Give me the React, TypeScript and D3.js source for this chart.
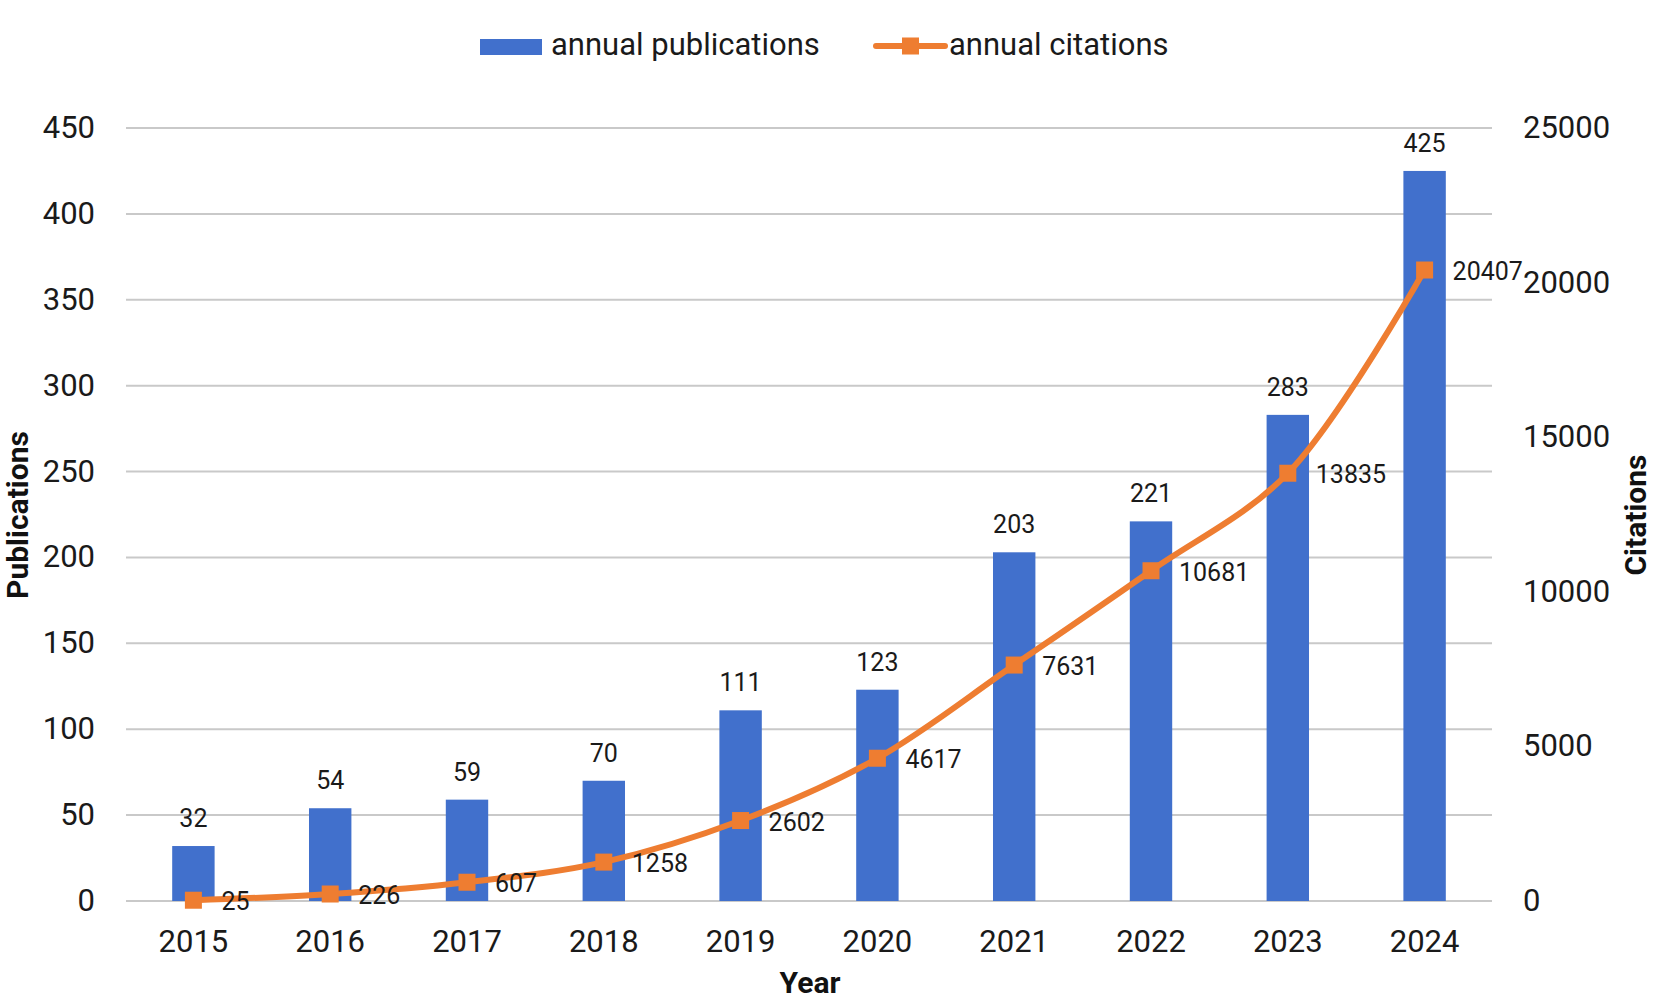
import React from "react";
import * as d3 from "d3";

const years: string[] = ["2015", "2016", "2017", "2018", "2019", "2020", "2021", "2022", "2023", "2024"];
const publications: number[] = [32, 54, 59, 70, 111, 123, 203, 221, 283, 425];
const citations: number[] = [25, 226, 607, 1258, 2602, 4617, 7631, 10681, 13835, 20407];
const leftTicks: number[] = [0, 50, 100, 150, 200, 250, 300, 350, 400, 450];
const rightTicks: number[] = [0, 5000, 10000, 15000, 20000, 25000];

const W = 1654;
const H = 1002;
const BLUE = "#4170cc";
const ORANGE = "#ee7d31";
const FONT = "Roboto, 'Noto Sans', sans-serif";

export default function App() {
  const x = d3
    .scaleBand<string>()
    .domain(years)
    .range([125, 1493])
    .paddingInner(0.69)
    .paddingOuter(0.345);
  const yL = d3.scaleLinear().domain([0, 450]).range([901, 128]);
  const yR = d3.scaleLinear().domain([0, 25000]).range([901, 128]);
  const cx = (y: string) => (x(y) as number) + x.bandwidth() / 2;

  const pts: [number, number][] = years.map((y, i) => [cx(y), yR(citations[i])]);
  const line = d3.line<[number, number]>().curve(d3.curveCatmullRom.alpha(0.5))(pts) || "";
  const ms = 17;

  return (
    <svg
      width={W}
      height={H}
      style={{ position: "absolute", left: 0, top: 0, display: "block", background: "#fff" }}
      fontFamily={FONT}
    >
      {/* gridlines */}
      {leftTicks.map((t) => (
        <line key={"g" + t} x1={126} x2={1492} y1={yL(t)} y2={yL(t)} stroke="#c9c9c9" strokeWidth={2} />
      ))}
      {/* left ticks */}
      {leftTicks.map((t) => (
        <text key={"l" + t} x={95} y={yL(t) + 10} textAnchor="end" fontSize={31} fill="#1a1a1a">
          {t}
        </text>
      ))}
      {/* right ticks */}
      {rightTicks.map((t) => (
        <text key={"r" + t} x={1523} y={yR(t) + 10} textAnchor="start" fontSize={31} fill="#1a1a1a">
          {t}
        </text>
      ))}
      {/* bars */}
      {years.map((y, i) => (
        <rect
          key={"b" + y}
          x={x(y)}
          y={yL(publications[i])}
          width={x.bandwidth()}
          height={yL(0) - yL(publications[i])}
          fill={BLUE}
        />
      ))}
      {/* bar labels */}
      {years.map((y, i) => (
        <text key={"bl" + y} x={cx(y)} y={yL(publications[i]) - 19} textAnchor="middle" fontSize={25} fill="#1a1a1a">
          {publications[i]}
        </text>
      ))}
      {/* line */}
      <path d={line} fill="none" stroke={ORANGE} strokeWidth={6} strokeLinejoin="round" />
      {pts.map((p, i) => (
        <rect key={"m" + i} x={p[0] - ms / 2} y={p[1] - ms / 2} width={ms} height={ms} fill={ORANGE} />
      ))}
      {pts.map((p, i) => (
        <text key={"ml" + i} x={p[0] + 28} y={p[1] + 10} textAnchor="start" fontSize={25} fill="#1a1a1a">
          {citations[i]}
        </text>
      ))}
      {/* year labels */}
      {years.map((y) => (
        <text key={"x" + y} x={cx(y)} y={952} textAnchor="middle" fontSize={31} fill="#1a1a1a">
          {y}
        </text>
      ))}
      {/* axis titles */}
      <text transform="translate(28,515) rotate(-90)" textAnchor="middle" fontSize={30} fontWeight="bold" fill="#111">
        Publications
      </text>
      <text transform="translate(1646,515) rotate(-90)" textAnchor="middle" fontSize={30} fontWeight="bold" fill="#111">
        Citations
      </text>
      <text x={810} y={993} textAnchor="middle" fontSize={30} fontWeight="bold" fill="#111">
        Year
      </text>
      {/* legend */}
      <rect x={480} y={39} width={62} height={16} fill={BLUE} />
      <text x={551} y={55} fontSize={31} fill="#1a1a1a">
        annual publications
      </text>
      <line x1={876} x2={945} y1={46} y2={46} stroke={ORANGE} strokeWidth={6} strokeLinecap="round" />
      <rect x={902} y={37.5} width={17} height={17} fill={ORANGE} />
      <text x={949} y={55} fontSize={31} fill="#1a1a1a">
        annual citations
      </text>
    </svg>
  );
}
